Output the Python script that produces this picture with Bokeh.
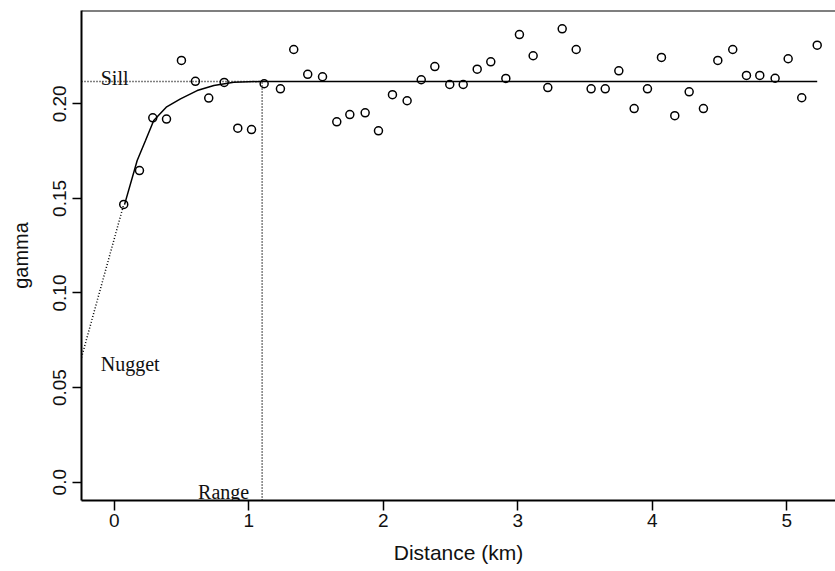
from bokeh.plotting import figure
from bokeh.models import Range1d, FixedTicker, Span
from bokeh.core.properties import value
from bokeh.embed import file_html
from bokeh.resources import INLINE

# Empirical semivariogram (lag distance in km, gamma)
dist = [0.071, 0.188, 0.287, 0.389, 0.500, 0.604, 0.703, 0.818, 0.919, 1.021,
        1.115, 1.236, 1.335, 1.439, 1.549, 1.655, 1.752, 1.866, 1.965, 2.069,
        2.178, 2.283, 2.384, 2.495, 2.595, 2.699, 2.800, 2.912, 3.013, 3.115,
        3.224, 3.331, 3.435, 3.546, 3.651, 3.752, 3.866, 3.965, 4.069, 4.168,
        4.275, 4.381, 4.488, 4.599, 4.701, 4.800, 4.914, 5.011, 5.112, 5.227]
gamma = [0.1468, 0.1647, 0.1926, 0.1919, 0.2229, 0.2119, 0.2030, 0.2113, 0.1871, 0.1864,
         0.2106, 0.2079, 0.2287, 0.2156, 0.2143, 0.1905, 0.1943, 0.1952, 0.1857, 0.2048,
         0.2016, 0.2127, 0.2197, 0.2102, 0.2102, 0.2183, 0.2222, 0.2134, 0.2366, 0.2254,
         0.2086, 0.2396, 0.2287, 0.2079, 0.2079, 0.2174, 0.1975, 0.2079, 0.2245, 0.1937,
         0.2063, 0.1975, 0.2229, 0.2287, 0.2150, 0.2150, 0.2135, 0.2238, 0.2032, 0.2310]

# Fitted model curve
model_x = [0.077, 0.171, 0.233, 0.294, 0.387, 0.493, 0.617, 0.741, 0.889, 1.087, 5.227]
model_y = [0.1467, 0.1700, 0.1806, 0.1912, 0.1982, 0.2026, 0.2070, 0.2097, 0.2114, 0.2118, 0.2118]

# Model parameters
sill = 0.2118
range_km = 1.10
nugget_edge = 0.0659

x_ticks = [0, 1, 2, 3, 4, 5]
y_ticks = [0.0, 0.05, 0.10, 0.15, 0.20]
y_tick_labels = ["0.0", "0.05", "0.10", "0.15", "0.20"]

X0, X1 = -0.243, 5.363
Y0, Y1 = -0.00968, 0.24931

p = figure(width=835, height=571, output_backend="svg", toolbar_location=None,
           x_range=Range1d(X0, X1), y_range=Range1d(Y0, Y1),
           min_border_left=81, min_border_right=0, min_border_top=10,
           min_border_bottom=71)
p.outline_line_color = None
p.grid.visible = False
p.background_fill_color = "white"
p.border_fill_color = "white"

for ax in (p.xaxis[0], p.yaxis[0]):
    ax.axis_line_width = 2
    ax.axis_line_color = "black"
    ax.major_tick_in = 0
    ax.minor_tick_out = 0
    ax.minor_tick_in = 0
    ax.major_tick_line_width = 1.5
    ax.major_label_text_font = "Liberation Sans"
    ax.major_label_text_font_size = "19px"
    ax.major_label_text_color = "#111111"
    ax.axis_label_text_font = "Liberation Sans"
    ax.axis_label_text_font_style = "normal"
    ax.axis_label_text_color = "#111111"

p.xaxis.ticker = FixedTicker(ticks=x_ticks)
p.xaxis.major_tick_out = 10
p.xaxis.major_label_standoff = 3
p.xaxis.axis_label = "Distance (km)"
p.xaxis.axis_label_text_font_size = "21px"
p.xaxis.axis_label_standoff = 11

p.yaxis.ticker = FixedTicker(ticks=y_ticks)
p.yaxis.major_label_overrides = {t: l for t, l in zip(y_ticks, y_tick_labels)}
p.yaxis.major_label_orientation = "vertical"
p.yaxis.major_tick_out = 9
p.yaxis.major_label_standoff = 6
p.yaxis.axis_label = "gamma"
p.yaxis.axis_label_text_font_size = "20px"
p.yaxis.axis_label_standoff = 19

p.add_layout(Span(location=Y1, dimension="width", line_color="black", line_width=2))

# Dotted construction lines
p.line([X0, dist[0]], [nugget_edge, gamma[0]], line_color="black", line_width=1.5, line_dash="1 2")
p.line([X0, range_km], [sill, sill], line_color="black", line_width=1.5, line_dash="1 2")
p.line([range_km, range_km], [Y0, sill], line_color="black", line_width=1.5, line_dash="1 2")

# Model curve
p.line(model_x, model_y, line_color="black", line_width=1.5)

# Empirical points
p.scatter(dist, gamma, marker="circle", size=8, fill_color=None,
          line_color="black", line_width=1.5)

# Annotations
p.text(x=[-0.1], y=[sill], text=["Sill"], text_font=value("Liberation Serif"),
       text_font_size="20px", text_baseline="alphabetic", text_align="left",
       y_offset=-3, text_color="#111111")
p.text(x=[-0.1], y=[nugget_edge], text=["Nugget"], text_font=value("Liberation Serif"),
       text_font_size="20px", text_baseline="alphabetic", text_align="left",
       y_offset=6, text_color="#111111")
p.text(x=[range_km], y=[0.0], text=["Range"], text_font=value("Liberation Serif"),
       text_font_size="20px", text_baseline="alphabetic", text_align="right",
       x_offset=-13, y_offset=10, text_color="#111111")

open("out.html", "w").write(file_html(p, INLINE))
